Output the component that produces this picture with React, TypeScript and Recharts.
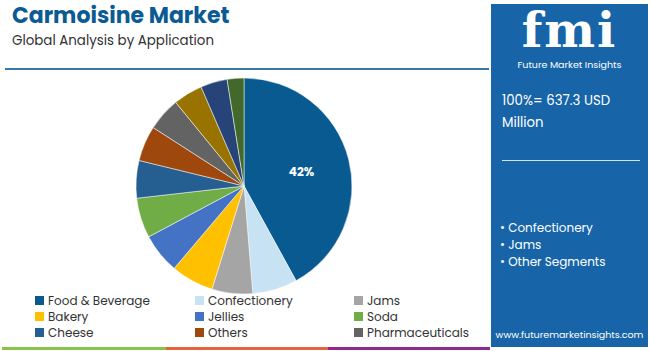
import { PieChart, Pie, Cell, Legend } from 'recharts';

const segments = [
  'Food & Beverage',
  'Confectionery',
  'Jams',
  'Bakery',
  'Jellies',
  'Soda',
  'Cheese',
  'Others',
  'Pharmaceuticals',
  'Dairy',
  'Meat',
  'Beverages',
];
const shares = [42, 6.7, 6.1, 6.4, 6.0, 6.0, 5.6, 5.3, 5.0, 4.4, 4.0, 2.5];
const colors = [
  '#0a5a92',
  '#c7e2f2',
  '#a5a5a5',
  '#ffc000',
  '#4472c4',
  '#70ad47',
  '#255e91',
  '#9e480e',
  '#636363',
  '#997300',
  '#264478',
  '#43682b',
];
const legendCount = 9;
const sideBullets = ['Confectionery', 'Jams', 'Other Segments'];

const data = segments.map((name, i) => ({ name, value: shares[i] }));
const font = 'Poppins, "Open Sans", sans-serif';

const RADIAN = Math.PI / 180;

function renderLabel(props: any) {
  const { cx, cy, midAngle, outerRadius, index, percent } = props;
  if (index !== 0) return null;
  const r = outerRadius * 0.55;
  const x = cx + r * Math.cos(-midAngle * RADIAN);
  const y = cy + r * Math.sin(-midAngle * RADIAN);
  return (
    <text
      x={x}
      y={y}
      fill="#fff"
      fontSize={12}
      fontWeight={700}
      fontFamily={font}
      textAnchor="middle"
      dominantBaseline="central"
    >
      {Math.round(percent * 100)}%
    </text>
  );
}

function LegendBox() {
  const cols = [35, 195, 354];
  return (
    <div style={{ position: 'relative', width: 480, height: 50 }}>
      {segments.slice(0, legendCount).map((name, i) => (
        <div
          key={name}
          style={{
            position: 'absolute',
            left: cols[i % 3],
            top: Math.floor(i / 3) * 16,
            height: 15,
            lineHeight: '15px',
            display: 'flex',
            alignItems: 'center',
            fontSize: 12,
            color: '#333',
            fontFamily: font,
            whiteSpace: 'nowrap',
          }}
        >
          <span
            style={{
              width: 9,
              height: 9,
              background: colors[i],
              marginRight: 4,
              display: 'inline-block',
            }}
          />
          {name}
        </div>
      ))}
    </div>
  );
}

export default function App() {
  return (
    <div
      style={{
        position: 'fixed',
        left: 0,
        top: 0,
        width: 650,
        height: 351,
        background: '#fff',
        fontFamily: font,
        overflow: 'hidden',
      }}
    >
      <div
        style={{
          position: 'absolute',
          left: 12,
          top: 3,
          fontSize: 22,
          lineHeight: '26px',
          fontWeight: 700,
          color: '#0b5b92',
        }}
      >
        Carmoisine Market
      </div>
      <div style={{ position: 'absolute', left: 12, top: 32, fontSize: 13.4, lineHeight: '18px', color: '#333' }}>
        Global Analysis by Application
      </div>
      <div style={{ position: 'absolute', left: 5, top: 68, width: 484, height: 2, background: '#3a78a8' }} />

      <PieChart
        width={490}
        height={351}
        margin={{ top: 0, right: 0, bottom: 0, left: 0 }}
        style={{ position: 'absolute', left: 0, top: 0 }}
      >
        <Pie
          data={data}
          dataKey="value"
          nameKey="name"
          cx={244}
          cy={186}
          outerRadius={108}
          startAngle={90}
          endAngle={-270}
          stroke="#fff"
          strokeWidth={0.5}
          label={renderLabel}
          labelLine={false}
          isAnimationActive={false}
        >
          {data.map((d, i) => (
            <Cell key={d.name} fill={colors[i]} />
          ))}
        </Pie>
        <Legend
          layout="horizontal"
          verticalAlign="bottom"
          align="left"
          wrapperStyle={{ left: 0, top: 293, width: 480 }}
          content={() => <LegendBox />}
        />
      </PieChart>

      <div style={{ position: 'absolute', left: 2, top: 347, width: 164, height: 3, background: '#8bc34a' }} />
      <div style={{ position: 'absolute', left: 166, top: 347, width: 162, height: 3, background: '#e8613a' }} />
      <div style={{ position: 'absolute', left: 328, top: 347, width: 162, height: 3, background: '#8e2a8e' }} />

      <div
        style={{
          position: 'absolute',
          left: 491,
          top: 4,
          width: 157,
          height: 343,
          background: '#1765a8',
          color: '#fff',
        }}
      >
        <div
          style={{
            position: 'absolute',
            left: 0,
            width: 157,
            top: 4,
            textAlign: 'center',
            fontSize: 48,
            fontWeight: 700,
            fontFamily: '"DejaVu Serif", serif',
            letterSpacing: 2,
            lineHeight: '44px',
            height: 44,
          }}
        >
          fmi
        </div>
        <div
          style={{
            position: 'absolute',
            left: 0,
            width: 157,
            top: 55,
            textAlign: 'center',
            fontSize: 9.5,
            lineHeight: '12px',
          }}
        >
          Future Market Insights
        </div>
        <div style={{ position: 'absolute', left: 11, top: 86, fontSize: 13.3, lineHeight: '22px' }}>
          100%= 637.3 USD
          <br />
          Million
        </div>
        <div style={{ position: 'absolute', left: 11, top: 156, width: 138, height: 1, background: '#d6e4f0' }} />
        <div style={{ position: 'absolute', left: 9, top: 215, fontSize: 12, lineHeight: '17px' }}>
          {sideBullets.map((b) => (
            <div key={b}>• {b}</div>
          ))}
        </div>
        <div
          style={{
            position: 'absolute',
            left: 0,
            width: 157,
            top: 325,
            textAlign: 'center',
            fontSize: 9.5,
            lineHeight: '12px',
          }}
        >
          www.futuremarketinsights.com
        </div>
      </div>
    </div>
  );
}
